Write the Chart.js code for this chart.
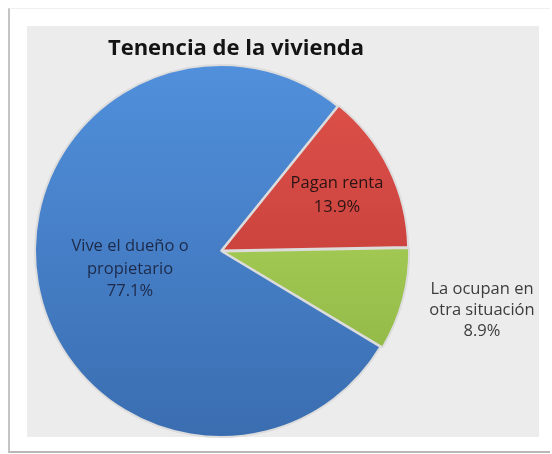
<!DOCTYPE html>
<html lang="es">
<head>
<meta charset="utf-8">
<title>Tenencia de la vivienda</title>
<script src="https://cdn.jsdelivr.net/npm/chart.js@4.4.1/dist/chart.umd.min.js"></script>
<style>
    html, body { margin: 0; padding: 0; background: #fff; }
    body { width: 552px; height: 454px; position: relative; overflow: hidden; }
    #marco {
        position: absolute; left: 8px; top: 8px; width: 540px; height: 442px;
        border-left: 2px solid #c4c4c4; border-bottom: 2px solid #b8b8b8; border-top: 1px solid #f0f0f0;
    }
    #panel { position: absolute; left: 27px; top: 26px; width: 512px; height: 411px; background: #ececec; }
    #wrap { position: absolute; left: 0; top: 0; width: 552px; height: 454px; }
</style>
</head>
<body>
<div id="marco"></div>
<div id="panel"></div>
<div id="wrap"><canvas id="chartTenencia"></canvas></div>
<script>
// ── Datos ────────────────────────────────────────────
const categorias = ['Vive el dueño o propietario', 'Pagan renta', 'La ocupan en otra situación'];
const porcentajes = [77.1, 13.9, 8.9];
const etiquetas = [
    ['Vive el dueño o', 'propietario', '77.1%'],
    ['Pagan renta', '13.9%'],
    ['La ocupan en', 'otra situación', '8.9%']
];
const titulo = 'Tenencia de la vivienda';

const colores = [['#5190dc', '#3a6db0'], ['#e0524c', '#b8352f'], ['#bde26a', '#86ad3c']];
const coloresTexto = ['#1d2a4a', '#2a1414', '#3c3c3c'];

function gradiente(ctx) {
    const chart = ctx.chart;
    const area = chart.chartArea;
    const par = colores[ctx.dataIndex];
    if (!area) return par[0];
    const g = chart.ctx.createLinearGradient(0, area.top, 0, area.bottom);
    g.addColorStop(0, par[0]);
    g.addColorStop(1, par[1]);
    return g;
}

// Título y etiquetas dibujados sobre el pastel
const pluginTextos = {
    id: 'textos',
    afterDraw(chart) {
        const c = chart.ctx;
        c.save();
        c.textAlign = 'center';
        c.textBaseline = 'alphabetic';
        c.fillStyle = '#141414';
        c.font = 'bold 22px "Open Sans", sans-serif';
        c.fillText(titulo, 236, 55);

        const arcs = chart.getDatasetMeta(0).data;
        const pos = [
            { x: 130, y: 251, lh: 22.5 },
            { x: 337, y: 188, lh: 24 },
            { x: 482, y: 294, lh: 21 }
        ];
        c.font = '16.5px "Open Sans", sans-serif';
        etiquetas.forEach((lineas, i) => {
            if (!arcs[i]) return;
            c.fillStyle = coloresTexto[i];
            lineas.forEach((t, k) => c.fillText(t, pos[i].x, pos[i].y + k * pos[i].lh));
        });
        c.restore();
    }
};

new Chart(document.getElementById('chartTenencia'), {
    type: 'pie',
    data: {
        labels: categorias,
        datasets: [{
            data: porcentajes,
            backgroundColor: gradiente,
            borderColor: '#dcdcdc',
            borderWidth: 2,
            offset: [0, 4, 6]
        }]
    },
    options: {
        responsive: true,
        maintainAspectRatio: false,
        animation: false,
        rotation: 121,
        layout: { padding: { left: 31, top: 61, right: 141, bottom: 13 } },
        plugins: {
            legend: { display: false },
            title: { display: false },
            tooltip: { enabled: false }
        }
    },
    plugins: [pluginTextos]
});
</script>
</body>
</html>
